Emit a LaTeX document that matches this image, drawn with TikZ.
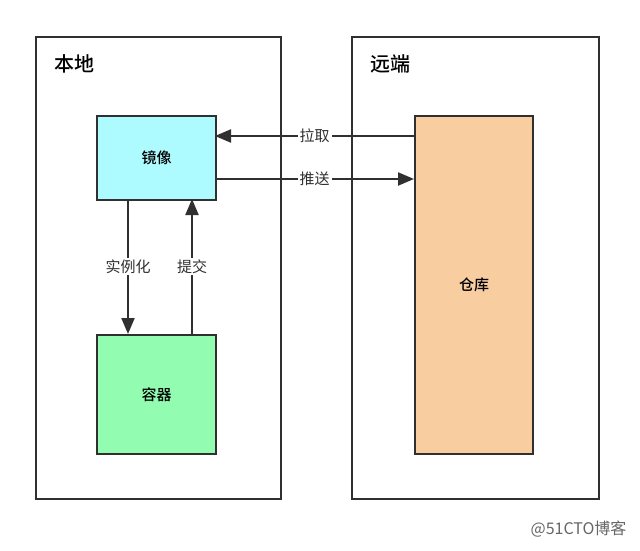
\documentclass[tikz,border=0pt]{standalone}
\usepackage{fontspec}
\setmainfont{Noto Sans CJK SC}
\newfontfamily\cjkbold{Noto Sans CJK SC Medium}
\usetikzlibrary{arrows.meta}
\definecolor{linec}{HTML}{303030}
\definecolor{imgc}{HTML}{ADFBFF}
\definecolor{conc}{HTML}{92FCB0}
\definecolor{repc}{HTML}{F8CDA0}
\tikzset{
  frame/.style={draw=linec, line width=2.2pt, fill=white},
  box/.style={draw=linec, line width=2.2pt, anchor=north west, inner sep=0pt, font=\cjkbold\fontsize{15}{17}\selectfont},
  conn/.style={draw=linec, line width=2.2pt, -{Triangle[length=16pt,width=13pt]}},
  lab/.style={fill=white, inner sep=2pt, text=linec, font=\fontsize{15}{17}\selectfont},
  title/.style={anchor=west, text=black, font=\cjkbold\fontsize{20}{22}\selectfont}
}
\begin{document}
\begin{tikzpicture}[x=1pt,y=-1pt]
\useasboundingbox (0,0) rectangle (640,550);
\fill[white] (0,0) rectangle (640,550);
\draw[frame] (36,37) rectangle (281,499);
\draw[frame] (352,37) rectangle (599,499);
\node[title] (local) at (51,64) {本地};
\node[title] (remote) at (367,64) {远端};
\node[box, fill=imgc, minimum width=119pt, minimum height=84pt] (img) at (96,115) {镜像};
\node[box, fill=conc, minimum width=119pt, minimum height=119pt] (con) at (96,334) {容器};
\node[box, fill=repc, minimum width=118pt, minimum height=338pt] (rep) at (414,115) {仓库};
\coordinate (p1) at (414,136);
\coordinate (p2) at (215,136);
\coordinate (q1) at (215,179);
\coordinate (q2) at (414,179);
\draw[conn] (p1) -- node[lab] (pull) {拉取} (p2);
\draw[conn] (q1) -- node[lab] (push) {推送} (q2);
\coordinate (a1) at (128,199);
\coordinate (a2) at (128,334);
\coordinate (b1) at (192,334);
\coordinate (b2) at (192,199);
\draw[conn] (a1) -- node[lab] (inst) {实例化} (a2);
\draw[conn] (b1) -- node[lab] (commit) {提交} (b2);
\node[anchor=east, text=black!60, font=\fontsize{16}{18}\selectfont] (wm) at (630,529) {@51CTO博客};
\end{tikzpicture}
\end{document}
